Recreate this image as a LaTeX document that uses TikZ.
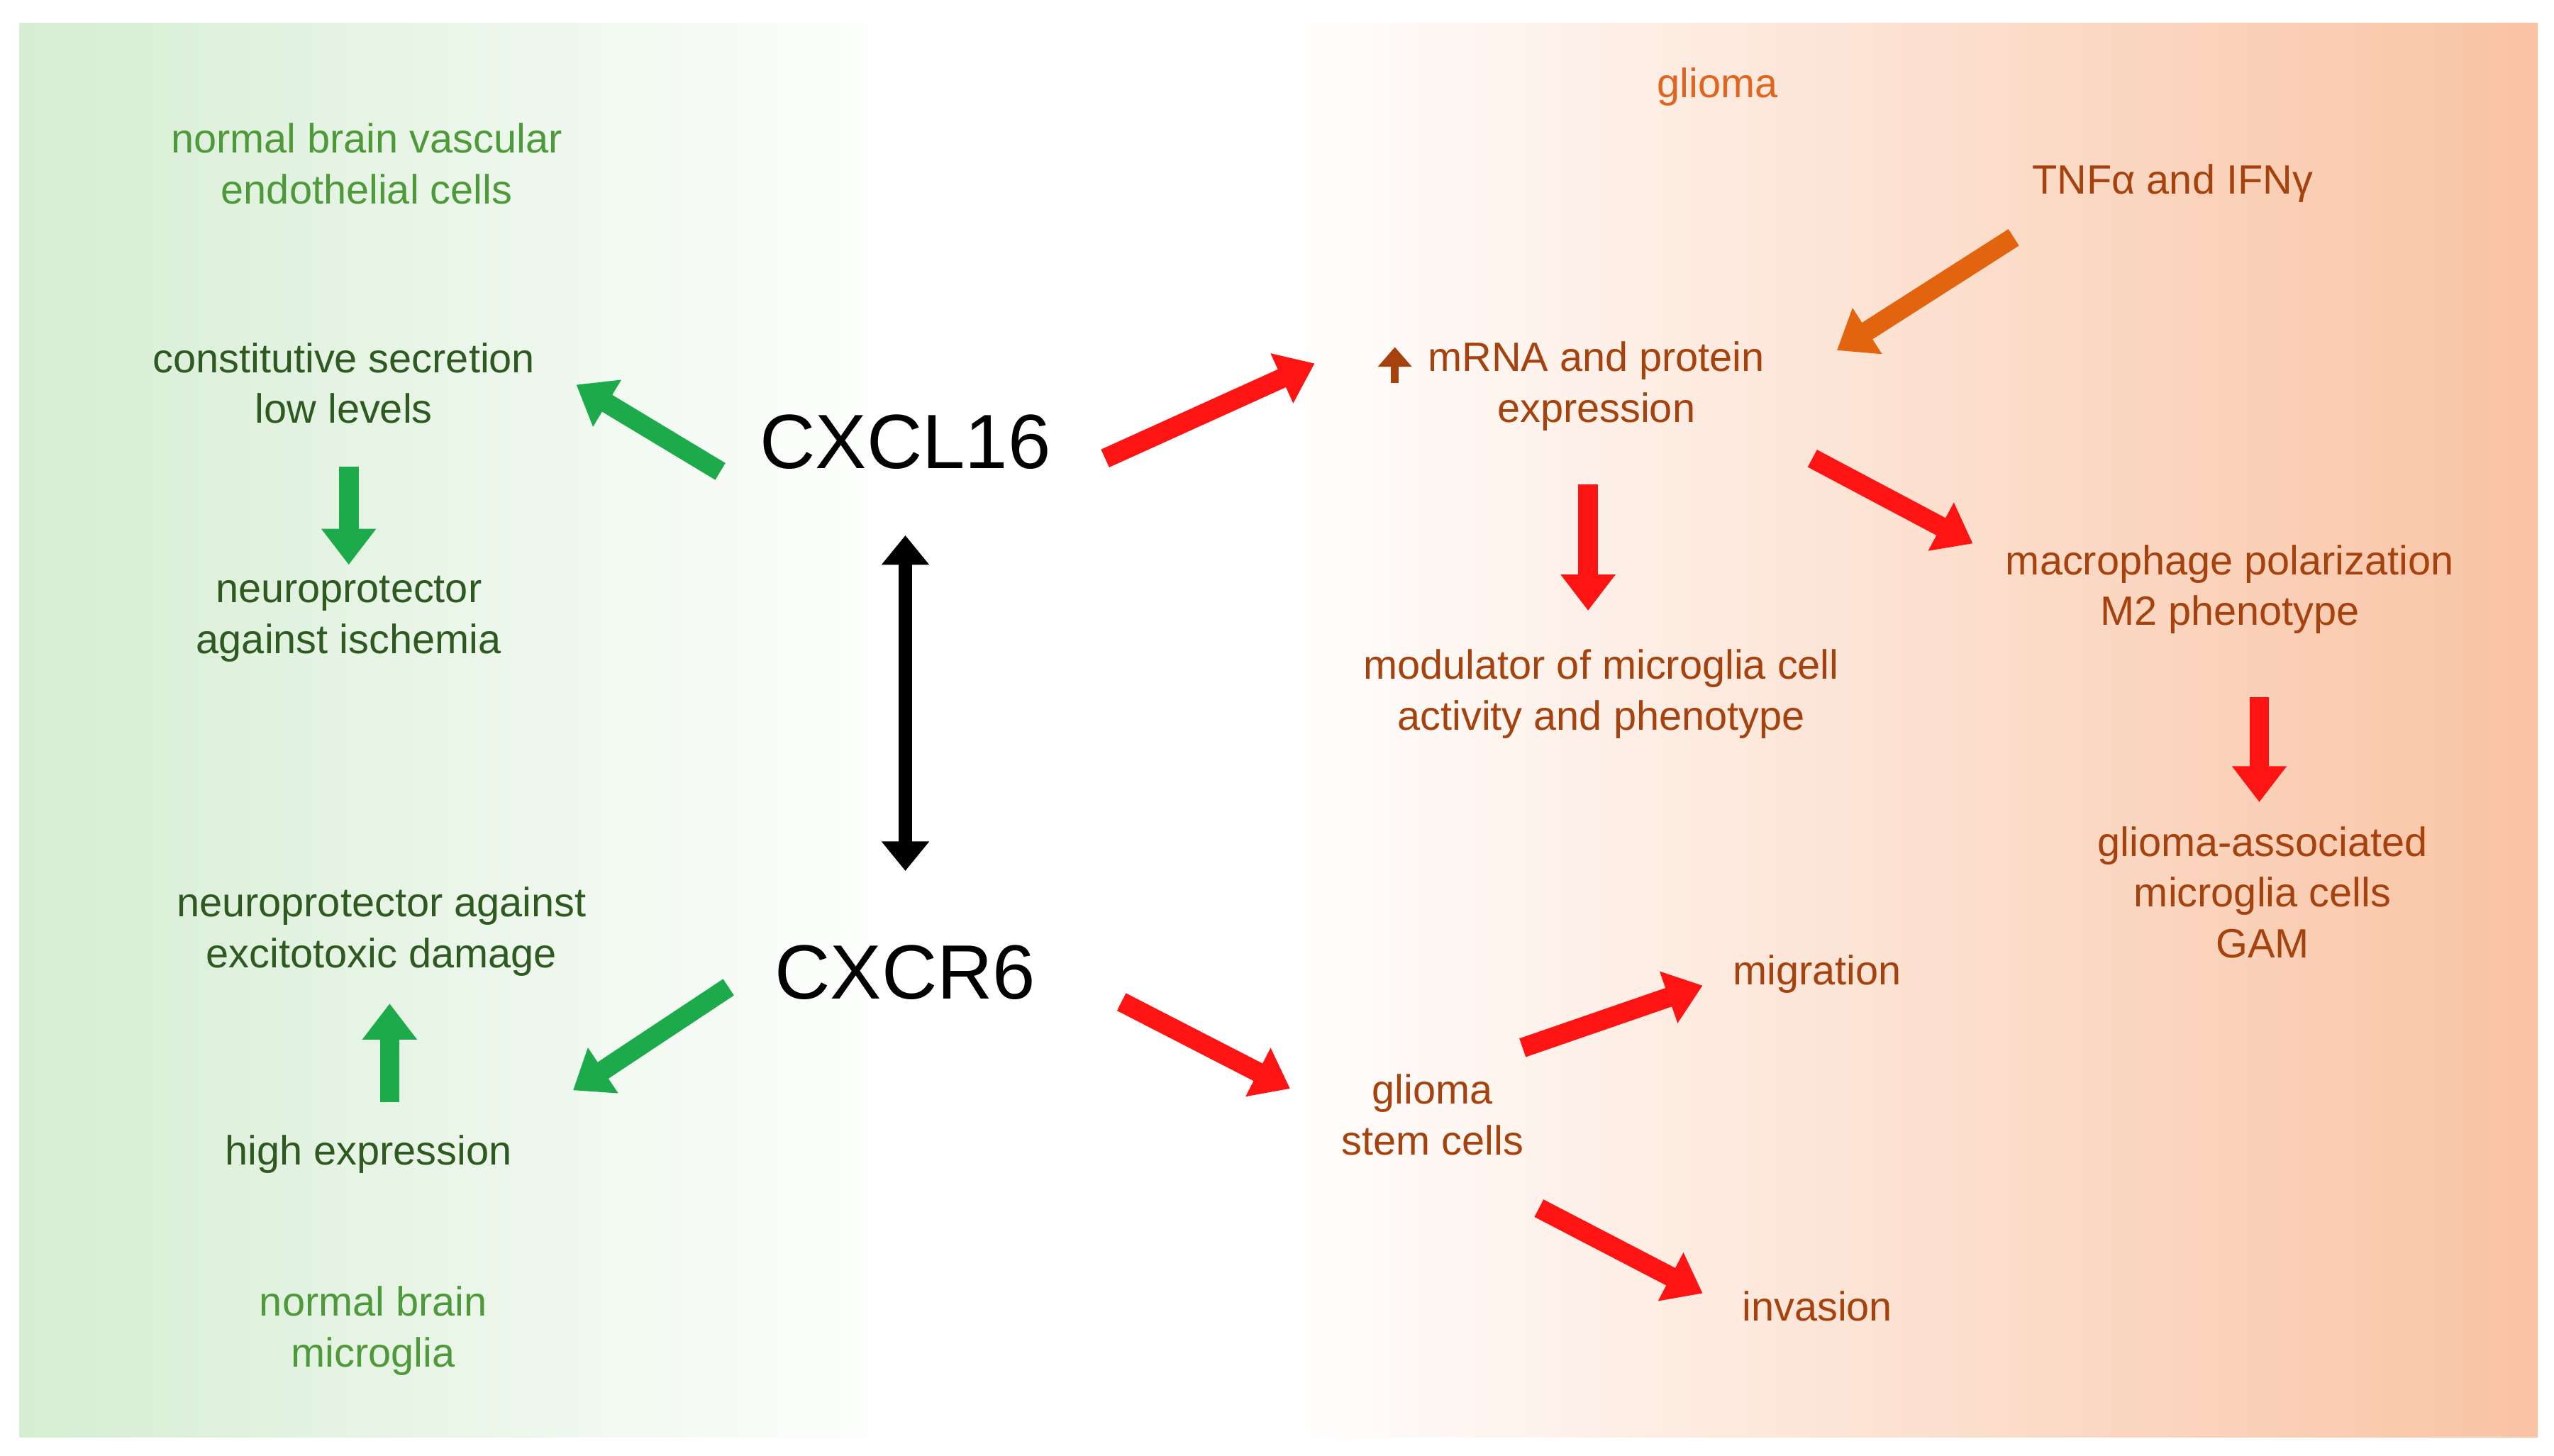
\documentclass[tikz,border=0pt]{standalone}
\usepackage{fontspec}
\setmainfont{Liberation Sans}
\usetikzlibrary{arrows.meta}
\definecolor{lg}{HTML}{4E9A3A}
\definecolor{dg}{HTML}{2E5A22}
\definecolor{og}{HTML}{E0651E}
\definecolor{br}{HTML}{A5420E}
\definecolor{gA}{HTML}{1DAA4A}
\definecolor{rA}{HTML}{FF1414}
\definecolor{oA}{HTML}{E2640E}
\definecolor{peach}{HTML}{F9C3A3}
\definecolor{mint}{HTML}{D6EDD3}
\begin{document}
\begin{tikzpicture}[x=0.5pt,y=-0.5pt,
 txt/.style={align=center,font=\fontsize{12.5}{15.5}\selectfont},
 big/.style={font=\fontsize{23.5}{26}\selectfont},
 blk/.style={line width=6pt,-{Triangle[length=11pt,width=16pt]}},
 dbl/.style={line width=4pt,{Triangle[length=9pt,width=14pt]}-{Triangle[length=9pt,width=14pt]}}]
\useasboundingbox (0,0) rectangle (1560,889);
\shade[left color=mint,right color=white] (12,14) rectangle (560,878);
\fill[white] (559,14) rectangle (781,878);
\shade[left color=white,right color=peach] (780,14) rectangle (1550,878);
\node[txt,text=lg] (t1) at (224,100) {normal brain vascular\\endothelial cells};
\node[txt,text=dg] (t2) at (210,234) {constitutive secretion\\low levels};
\node[txt,text=dg] (t3) at (213,378) {neuroprotector\\against ischemia};
\node[big] (l16) at (553,270) {CXCL16};
\node[big] (r6) at (553,594) {CXCR6};
\node[txt,text=dg] (t4) at (233,569) {neuroprotector against\\excitotoxic damage};
\node[txt,text=dg] (t5) at (225,705) {high expression};
\node[txt,text=lg] (t6) at (228,813) {normal brain\\microglia};
\node[txt,text=og] (gl) at (1049,53) {glioma};
\node[txt,text=br] (tnf) at (1327,112) {TNFα and IFNγ};
\node[txt,text=br] (mrna) at (975,236) {mRNA and protein\\expression};
\draw[br,line width=2.5pt,-{Triangle[length=6pt,width=10pt]}] (852,234) -- (852,212);
\node[txt,text=br] (mod) at (978,424) {modulator of microglia cell\\activity and phenotype};
\node[txt,text=br] (mac) at (1362,360) {macrophage polarization\\M2 phenotype};
\node[txt,text=br] (gam) at (1382,545) {glioma-associated\\microglia cells\\GAM};
\node[txt,text=br] (gsc) at (875,681) {glioma\\stem cells};
\node[txt,text=br] (mig) at (1110,595) {migration};
\node[txt,text=br] (inv) at (1110,798) {invasion};
\draw[blk,gA] (440,288) -- (352,235);
\draw[blk,gA] (213,285) -- (213,345);
\draw[dbl,black] (553,327) -- (553,532);
\draw[blk,gA] (445,603) -- (350,666);
\draw[blk,gA] (238,673) -- (238,613);
\draw[blk,rA] (675,280) -- (803,222);
\draw[blk,oA] (1230,145) -- (1122,214);
\draw[blk,rA] (970,296) -- (970,373);
\draw[blk,rA] (1107,280) -- (1205,332);
\draw[blk,rA] (1380,426) -- (1380,490);
\draw[blk,rA] (685,612) -- (788,665);
\draw[blk,rA] (930,640) -- (1040,602);
\draw[blk,rA] (940,738) -- (1040,790);
\end{tikzpicture}
\end{document}
